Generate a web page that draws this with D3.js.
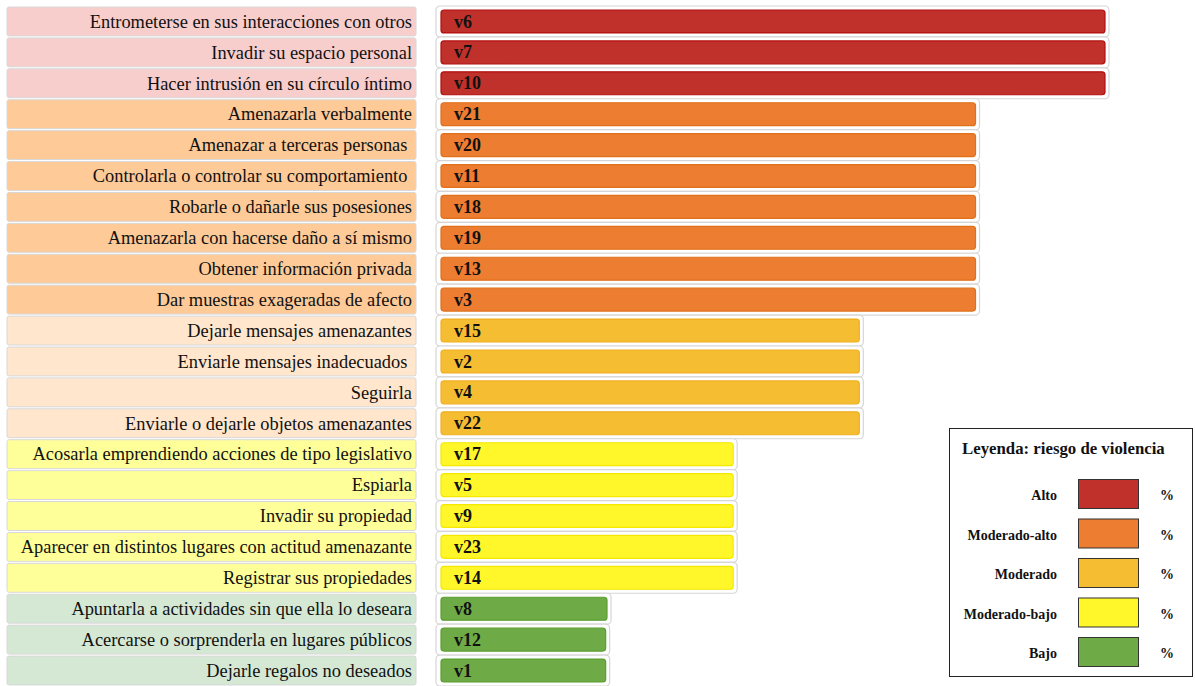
<!DOCTYPE html>
<html><head><meta charset="utf-8">
<script src="https://cdn.jsdelivr.net/npm/d3@7/dist/d3.min.js"></script>
<style>body{margin:0;background:#fff}svg{display:block}text{font-family:"Liberation Serif","Times New Roman",serif}</style>
</head><body><svg id="c" width="1195" height="686"></svg>
<script>
const labels = [
 "Entrometerse en sus interacciones con otros","Invadir su espacio personal","Hacer intrusión en su círculo íntimo",
 "Amenazarla verbalmente","Amenazar a terceras personas ","Controlarla o controlar su comportamiento ","Robarle o dañarle sus posesiones","Amenazarla con hacerse daño a sí mismo","Obtener información privada","Dar muestras exageradas de afecto",
 "Dejarle mensajes amenazantes","Enviarle mensajes inadecuados ","Seguirla","Enviarle o dejarle objetos amenazantes",
 "Acosarla emprendiendo acciones de tipo legislativo","Espiarla","Invadir su propiedad","Aparecer en distintos lugares con actitud amenazante","Registrar sus propiedades",
 "Apuntarla a actividades sin que ella lo deseara","Acercarse o sorprenderla en lugares públicos","Dejarle regalos no deseados"];
const codes = ["v6","v7","v10","v21","v20","v11","v18","v19","v13","v3","v15","v2","v4","v22","v17","v5","v9","v23","v14","v8","v12","v1"];
const groups = [0,0,0,1,1,1,1,1,1,1,2,2,2,2,3,3,3,3,3,4,4,4];
const values = [100,100,100,80.5,80.5,80.5,80.5,80.5,80.5,80.5,63,63,63,63,44,44,44,44,44,25,24.8,24.8];
const groupNames = ["Alto","Moderado-alto","Moderado","Moderado-bajo","Bajo"];
const barColors = ["#c0312b","#ed7d31","#f5bd31","#fff72a","#6eab46"];
const barStroke = ["#b30f0f","#e0701a","#f0b020","#f5e800","#5b9e30"];
const bgColors = ["#f8cecc","#fdca98","#ffe6cc","#ffff99","#d5e8d4"];
const legendTitle = "Leyenda: riesgo de violencia";

const svg = d3.select("#c");
const y = d3.scaleBand().domain(d3.range(labels.length)).range([6,686]).padding(0);
const x = d3.scaleLinear().domain([0,100]).range([441,1105]);
const bw = y.bandwidth();

// label cells
const lg = svg.append("g");
lg.selectAll("rect").data(labels).join("rect")
  .attr("x",7).attr("y",(d,i)=>y(i)+1).attr("width",409).attr("height",bw-2)
  .attr("rx",2).attr("fill",(d,i)=>bgColors[groups[i]]).attr("stroke","#d8d8d8").attr("stroke-width",1);
lg.selectAll("text").data(labels).join("text")
  .attr("x",412).attr("y",(d,i)=>y(i)+bw/2).attr("dy","0.34em").attr("text-anchor","end")
  .attr("font-size",18.4).attr("fill","#111").attr("xml:space","preserve").text(d=>d);

// outer cells
const bg = svg.append("g");
bg.selectAll("rect.o").data(values).join("rect").attr("class","o")
  .attr("x",436).attr("y",(d,i)=>y(i)).attr("width",d=>x(d)+4-436).attr("height",bw)
  .attr("rx",4).attr("fill","#fff").attr("stroke","#d6d6d6").attr("stroke-width",1.2);
bg.selectAll("rect.b").data(values).join("rect").attr("class","b")
  .attr("x",x(0)).attr("y",(d,i)=>y(i)+4).attr("width",d=>x(d)-x(0)).attr("height",bw-8)
  .attr("rx",3).attr("fill",(d,i)=>barColors[groups[i]]).attr("stroke",(d,i)=>barStroke[groups[i]]).attr("stroke-width",1.2);
bg.selectAll("text").data(codes).join("text")
  .attr("x",x(0)+13).attr("y",(d,i)=>y(i)+bw/2).attr("dy","0.34em")
  .attr("font-size",18).attr("font-weight","bold").attr("fill","#111").text(d=>d);

// legend
const L = svg.append("g");
L.append("rect").attr("x",949.5).attr("y",428.5).attr("width",243).attr("height",248).attr("fill","#fff").attr("stroke","#222").attr("stroke-width",1);
L.append("text").attr("x",962).attr("y",454).attr("font-size",16.8).attr("font-weight","bold").attr("fill","#111").text(legendTitle);
const ly = d3.scaleBand().domain(d3.range(groupNames.length)).range([479,666]).paddingInner(0.266).paddingOuter(0);
L.selectAll("rect.s").data(groupNames).join("rect").attr("class","s")
  .attr("x",1078.5).attr("y",(d,i)=>ly(i)+0.5).attr("width",60).attr("height",ly.bandwidth())
  .attr("fill",(d,i)=>barColors[i]).attr("stroke","#333").attr("stroke-width",1);
L.selectAll("text.n").data(groupNames).join("text").attr("class","n")
  .attr("x",1057).attr("y",(d,i)=>ly(i)+ly.bandwidth()/2+2).attr("dy","0.34em").attr("text-anchor","end")
  .attr("font-size",14).attr("font-weight","bold").attr("fill","#111").text(d=>d);
L.selectAll("text.p").data(groupNames).join("text").attr("class","p")
  .attr("x",1160).attr("y",(d,i)=>ly(i)+ly.bandwidth()/2+2).attr("dy","0.34em")
  .attr("font-size",14).attr("font-weight","bold").attr("fill","#111").text("%");
</script></body></html>
